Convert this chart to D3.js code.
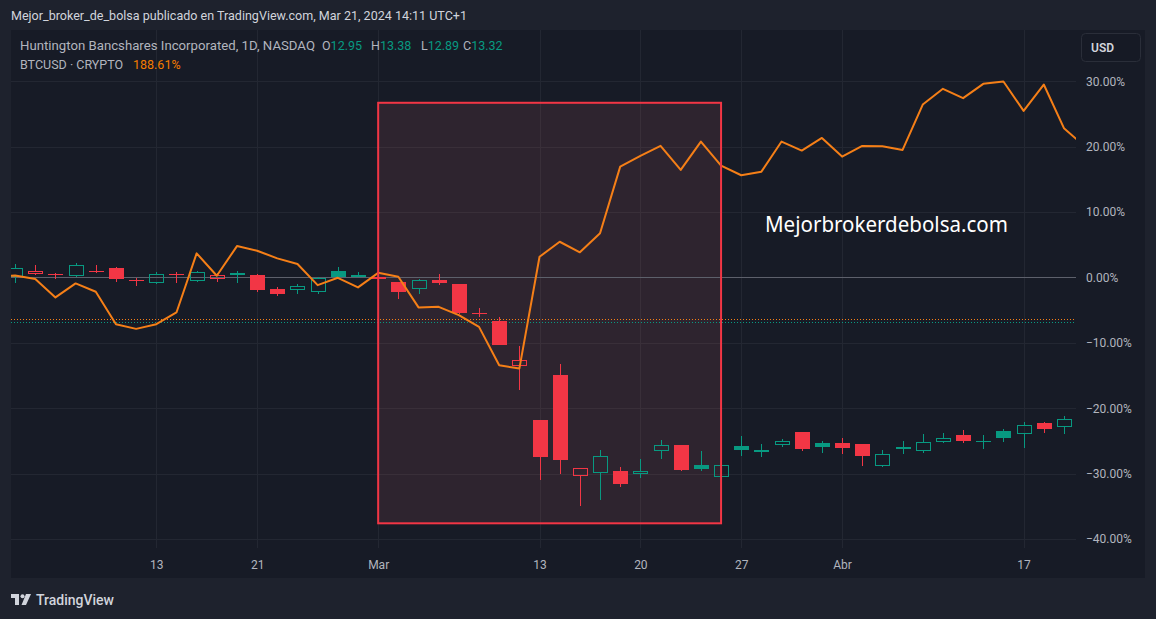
<!DOCTYPE html>
<html><head><meta charset="utf-8">
<script src="https://cdn.jsdelivr.net/npm/d3@7"></script>
<style>html,body{margin:0;padding:0;background:#1e222d;overflow:hidden}svg{display:block}</style>
</head><body><svg id="c" width="1156" height="619"></svg>
<script>
// ---------- DATA ----------
const dates = [
 "2023-02-01","2023-02-02","2023-02-03","2023-02-06","2023-02-07","2023-02-08","2023-02-09","2023-02-10",
 "2023-02-13","2023-02-14","2023-02-15","2023-02-16","2023-02-17","2023-02-21","2023-02-22","2023-02-23",
 "2023-02-24","2023-02-27","2023-02-28",
 "2023-03-01","2023-03-02","2023-03-03","2023-03-06","2023-03-07","2023-03-08","2023-03-09","2023-03-10",
 "2023-03-13","2023-03-14","2023-03-15","2023-03-16","2023-03-17","2023-03-20","2023-03-21","2023-03-22",
 "2023-03-23","2023-03-24","2023-03-27","2023-03-28","2023-03-29","2023-03-30","2023-03-31",
 "2023-04-03","2023-04-04","2023-04-05","2023-04-06","2023-04-10","2023-04-11","2023-04-12","2023-04-13",
 "2023-04-14","2023-04-17","2023-04-18","2023-04-19","2023-04-20"];
// BTCUSD overlay, % change
const btcPct = [0, 0.3, -0.26, -3.06, -0.92, -2.2, -7.15, -7.87, -7.15, -5.36, 3.68, 0.25, 4.79, 4.07, 2.91,
 2.04, -1.18, -0.06, -1.53, 0.70, 0.09, -4.59, -4.50, -5.77, -7.57, -13.43, -13.94, 3.15, 5.45, 3.83, 6.74,
 16.94, 18.58, 20.11, 16.43, 20.77, 17.09, 15.62, 16.17, 20.77, 19.39, 21.33, 18.47, 20.11, 20.06, 19.49,
 26.43, 28.84, 27.41, 29.60, 29.95, 25.47, 29.49, 22.82, 20.1];
// Huntington Bancshares (HBAN) candles, % change
const hbanOpen = [null, 0.09, 0.55, 0.54, 0.25, 0.93, 1.42, -0.38, -0.92, 0.54, -0.52, -0.21, 0.70, 0.35, -1.79,
 -1.90, -2.21, 0.96, 0.32, -0.03, -0.72, -1.84, -0.41, -1.03, -5.48, -6.69, -13.54, -21.85, -14.96, -30.38,
 -29.86, -29.66, -30.02, -26.55, -25.68, -28.74, -30.54, -25.83, -26.37, -25.64, -23.69, -25.38, -25.38,
 -25.53, -28.85, -26.25, -26.55, -25.18, -24.15, -24.96, -23.43, -23.95, -22.31, -22.88, null];
const hbanHigh = [null, 2.04, 1.88, 0.70, 2.19, 1.88, 1.62, -0.06, 0.81, 0.81, 1.01, 0.61, 0.96, 0.51, -1.53,
 -1.03, 0.05, 1.62, 0.81, 0.20, -0.72, -0.26, 0.51, -0.95, -4.70, -6.13, -10.52, -21.85, -13.17, -29.10,
 -26.45, -29.00, -27.83, -24.92, -25.68, -26.60, -28.44, -24.30, -25.53, -24.72, -23.69, -25.07, -24.61,
 -25.53, -26.45, -24.96, -24.00, -23.84, -23.38, -24.15, -23.19, -22.16, -22.16, -21.24, null];
const hbanLow = [null, -0.83, 0.40, -0.26, 0.09, 0.66, -0.67, -1.29, -1.07, -0.83, -0.67, -0.67, -0.92, -2.21,
 -2.82, -2.56, -2.56, 0.00, 0.00, -0.26, -3.32, -2.51, -1.18, -5.62, -6.03, -10.37, -17.26, -31.04, -30.08,
 -35.02, -34.10, -32.11, -30.69, -27.83, -29.66, -29.66, -31.04, -27.32, -27.47, -25.94, -26.55, -26.86,
 -27.06, -28.85, -29.00, -27.06, -26.86, -25.38, -25.38, -26.29, -25.22, -26.10, -23.84, -23.95, null];
const hbanClose = [null, 1.38, 0.92, 0.47, 1.84, 0.89, -0.31, -0.44, 0.51, 0.47, 0.77, 0.31, 0.40, -1.94, -2.51,
 -1.33, -0.08, 0.05, 0.37, 0.05, -2.21, -0.46, -0.87, -5.47, -5.53, -10.37, -12.66, -27.47, -27.98, -29.10,
 -27.26, -31.65, -29.56, -25.57, -29.51, -29.36, -28.64, -26.40, -26.33, -24.96, -26.29, -25.94, -26.10,
 -27.32, -26.95, -25.88, -25.11, -24.50, -25.07, -25.04, -24.56, -22.51, -23.19, -21.59, null];
const xTickDates = ["2023-02-13","2023-02-21","2023-03-01","2023-03-13","2023-03-20","2023-03-27","2023-04-03","2023-04-17"];
const xTickLabels = ["13","21","Mar","13","20","27","Abr","17"];
const yTicks = [30, 20, 10, 0, -10, -20, -30, -40];
const dottedLevels = [-6.43, -6.85];           // BTC, HBAN price lines
const boxStart = "2023-03-01", boxEnd = "2023-03-24", boxTop = 26.7, boxBottom = -37.6;

// ---------- STYLE ----------
const C = {bg:"#1e222d", pane:"#171b26", grid:"#232732", text:"#b2b5be", head:"#d1d4dc",
  up:"#089981", down:"#f23645", btc:"#f57f17", zero:"#5d606b"};
const svg = d3.select("#c");
const P = {left:11, top:30, right:1076, bottom:548, paneRight:1145, paneBottom:578};

svg.append("rect").attr("width",1156).attr("height",619).attr("fill",C.bg);
svg.append("rect").attr("x",P.left).attr("y",P.top).attr("width",P.paneRight-P.left)
  .attr("height",P.paneBottom-P.top).attr("fill",C.pane);

const x = d3.scalePoint().domain(dates).range([-5.06, -5.06 + 20.17*(dates.length-1)]);
const y = d3.scaleLinear().domain([-40, 30]).range([539, 81.2]);
const cr = v => Math.round(v) + 0.5;

svg.append("defs").append("clipPath").attr("id","plot").append("rect")
  .attr("x",P.left).attr("y",P.top).attr("width",P.right-P.left).attr("height",P.bottom-P.top);
const plot = svg.append("g").attr("clip-path","url(#plot)");

// grid
plot.selectAll(".hg").data(yTicks).join("line")
  .attr("x1",P.left).attr("x2",P.right).attr("y1",d=>cr(y(d))).attr("y2",d=>cr(y(d)))
  .attr("stroke",C.grid).attr("stroke-width",1);
plot.selectAll(".vg").data(xTickDates).join("line")
  .attr("x1",d=>cr(x(d))).attr("x2",d=>cr(x(d))).attr("y1",P.top).attr("y2",P.bottom)
  .attr("stroke",C.grid).attr("stroke-width",1);

// rectangle fill
const bx1 = x(boxStart), bx2 = x(boxEnd);
plot.append("rect").attr("x",bx1).attr("y",y(boxTop)).attr("width",bx2-bx1).attr("height",y(boxBottom)-y(boxTop))
  .attr("fill","rgba(255,120,130,0.1)");

// zero line
plot.append("line").attr("x1",P.left).attr("x2",P.right).attr("y1",cr(y(0))).attr("y2",cr(y(0)))
  .attr("stroke",C.zero).attr("stroke-width",1);

// dotted price lines
plot.selectAll(".dl").data(dottedLevels).join("line")
  .attr("x1",P.left).attr("x2",P.right).attr("y1",d=>cr(y(d))).attr("y2",d=>cr(y(d)))
  .attr("stroke",(d,i)=>i===0?C.btc:C.up).attr("stroke-width",1).attr("stroke-dasharray","1,2");

// candles
const candles = dates.map((d,i)=>({d, o:hbanOpen[i], h:hbanHigh[i], l:hbanLow[i], c:hbanClose[i],
  pc: i>0 && hbanClose[i-1]!=null ? hbanClose[i-1] : 0})).filter(k=>k.o!=null);
const cg = plot.append("g");
candles.forEach(k=>{
  const col = k.c >= k.pc ? C.up : C.down;
  const hollow = k.c > k.o;
  const left = Math.round(x(k.d)) - 7, w = 15, cx = left + 7.5;
  const top = Math.round(y(Math.max(k.o,k.c))), bot = Math.round(y(Math.min(k.o,k.c)));
  const yh = Math.round(y(k.h)), yl = Math.round(y(k.l));
  if (hollow) {
    const h = Math.max(bot - top, 2);
    if (yh < top) cg.append("line").attr("x1",cx).attr("x2",cx).attr("y1",yh).attr("y2",top).attr("stroke",col);
    if (yl > top+h) cg.append("line").attr("x1",cx).attr("x2",cx).attr("y1",top+h).attr("y2",yl).attr("stroke",col);
    cg.append("rect").attr("x",left+0.5).attr("y",top+0.5).attr("width",w-1).attr("height",h-1)
      .attr("fill","none").attr("stroke",col).attr("stroke-width",1);
  } else {
    cg.append("line").attr("x1",cx).attr("x2",cx).attr("y1",yh).attr("y2",yl).attr("stroke",col);
    cg.append("rect").attr("x",left).attr("y",top).attr("width",w).attr("height",Math.max(bot-top,1)).attr("fill",col);
  }
});

// BTC line
plot.append("path").datum(dates.map((d,i)=>({d, v:btcPct[i]})))
  .attr("d", d3.line().x(p=>x(p.d)).y(p=>y(p.v)))
  .attr("fill","none").attr("stroke",C.btc).attr("stroke-width",2).attr("stroke-linejoin","round");

// rectangle border
plot.append("rect").attr("x",bx1).attr("y",y(boxTop)).attr("width",bx2-bx1).attr("height",y(boxBottom)-y(boxTop))
  .attr("fill","none").attr("stroke",C.down).attr("stroke-width",2);

// watermark
svg.append("text").attr("x",765).attr("y",232).attr("fill","#ffffff")
  .attr("font-family","'Noto Sans', sans-serif").attr("font-size",22)
  .attr("textLength",243).attr("lengthAdjust","spacingAndGlyphs").text("Mejorbrokerdebolsa.com");

// axes
const ya = svg.append("g").attr("transform","translate(1086,0)")
  .call(d3.axisRight(y).tickValues(yTicks).tickSize(0).tickPadding(0)
    .tickFormat(d => d.toFixed(2).replace("-", "\u2212") + "%"));
ya.select(".domain").remove();
ya.selectAll("text").attr("fill",C.text).attr("font-family","Roboto, sans-serif").attr("font-size",12);

const xa = svg.append("g").attr("transform","translate(0,560)")
  .call(d3.axisBottom(x).tickValues(xTickDates).tickSize(0).tickPadding(0)
    .tickFormat(d => xTickLabels[xTickDates.indexOf(d)]));
xa.select(".domain").remove();
xa.selectAll("text").attr("fill",C.text).attr("font-family","Roboto, sans-serif").attr("font-size",12);

// header
const F = "Roboto, sans-serif";
svg.append("text").attr("x",11).attr("y",20).attr("fill",C.head).attr("font-family",F).attr("font-size",13)
  .attr("textLength",456).attr("lengthAdjust","spacingAndGlyphs")
  .text("Mejor_broker_de_bolsa publicado en TradingView.com, Mar 21, 2024 14:11 UTC+1");

// legend
const lg = svg.append("g").attr("font-family",F).attr("font-size",12.5);
lg.append("text").attr("x",20).attr("y",50).attr("fill",C.text).attr("textLength",295)
  .attr("lengthAdjust","spacingAndGlyphs").text("Huntington Bancshares Incorporated, 1D, NASDAQ");
const ohlc = [["O","12.95",322],["H","13.38",371],["L","12.89",421],["C","13.32",463]];
ohlc.forEach(([k,v,px])=>{
  const t = lg.append("text").attr("x",px).attr("y",50);
  t.append("tspan").attr("fill",C.text).text(k);
  t.append("tspan").attr("fill",C.up).text(v);
});
lg.append("text").attr("x",20).attr("y",69).attr("fill",C.text).text("BTCUSD \u00b7 CRYPTO");
lg.append("text").attr("x",133).attr("y",69).attr("fill","#f57c00").text("188.61%");

// USD button
svg.append("rect").attr("x",1081.5).attr("y",33.5).attr("width",59).attr("height",28).attr("rx",4)
  .attr("fill","#161a25").attr("stroke","#2a2e39");
svg.append("text").attr("x",1091).attr("y",52).attr("fill",C.head).attr("font-family",F)
  .attr("font-size",12).attr("font-weight",600).text("USD");

// TradingView logo
const logo = svg.append("g").attr("fill","#d1d4dc");
logo.append("path").attr("d","M11,594 h8 v11 h-4 v-7 h-4 z");
logo.append("circle").attr("cx",22.5).attr("cy",596.3).attr("r",2);
logo.append("path").attr("d","M26,594 h5 l-5,11 h-4.5 z");
svg.append("text").attr("x",36).attr("y",605).attr("fill","#d1d4dc").attr("font-family",F)
  .attr("font-size",14).attr("font-weight",500).text("TradingView");
</script></body></html>
